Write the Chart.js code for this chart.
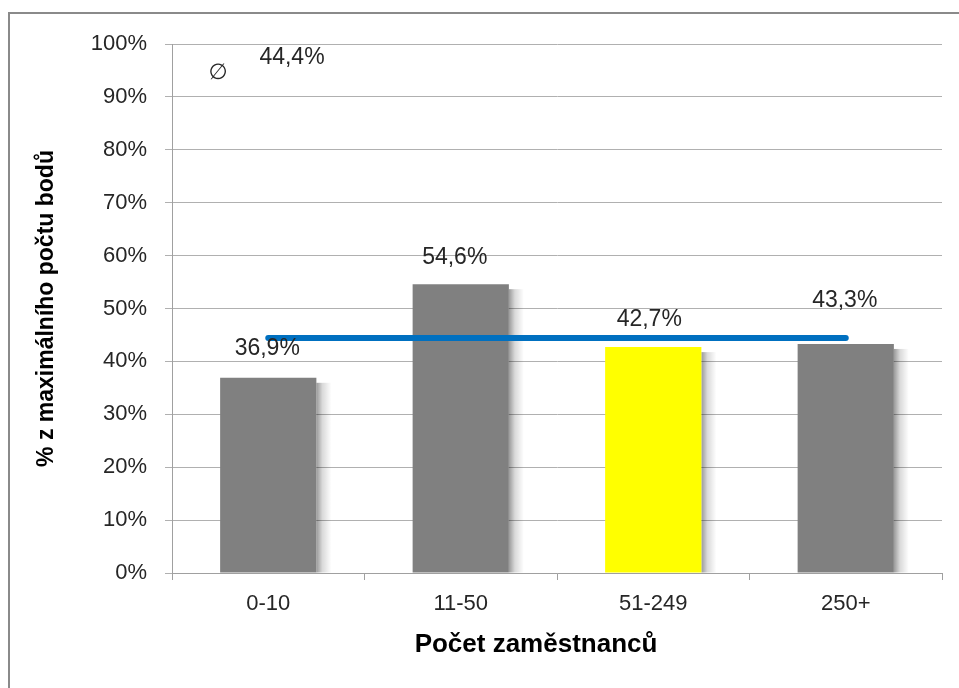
<!DOCTYPE html>
<html>
<head>
<meta charset="utf-8">
<script src="https://cdn.jsdelivr.net/npm/chart.js@4.4.1/dist/chart.umd.min.js"></script>
<style>
html,body{margin:0;padding:0;background:#fff;}
#wrap{width:959px;height:688px;position:relative;}
</style>
</head>
<body>
<div id="wrap"><canvas id="c" width="959" height="688"></canvas></div>
<script>
const categories = ['0-10', '11-50', '51-249', '250+'];
const values = [36.9, 54.6, 42.7, 43.3];
const average = 44.4;
const averageLine = [44.4, 44.4, 44.4, 44.4];
const yTicks = [0, 10, 20, 30, 40, 50, 60, 70, 80, 90, 100];
const barColors = ['#808080', '#808080', '#ffff00', '#808080'];
const xTitle = 'Počet zaměstnanců';
const yTitle = '% z maximálního počtu bodů';

const FONT = "'Liberation Sans', Arial, sans-serif";
const fmt = v => v.toFixed(1).replace('.', ',') + '%';

const framePlugin = {
  id: 'frame',
  beforeDraw(chart) {
    const ctx = chart.ctx;
    ctx.save();
    ctx.fillStyle = '#fff';
    ctx.fillRect(0, 0, chart.width, chart.height);
    ctx.strokeStyle = '#8a8a8a';
    ctx.lineWidth = 2;
    ctx.strokeRect(9, 13, 1200, 1200);
    ctx.restore();
  }
};

const shadowPlugin = {
  id: 'barShadow',
  beforeDatasetDraw(chart, args) {
    if (args.index !== 0) return;
    const ctx = chart.ctx;
    const meta = chart.getDatasetMeta(0);
    ctx.save();
    meta.data.forEach(bar => {
      const right = bar.x + bar.width / 2;
      const g = ctx.createLinearGradient(right, 0, right + 15, 0);
      g.addColorStop(0, 'rgba(0,0,0,0.4)');
      g.addColorStop(0.4, 'rgba(0,0,0,0.15)');
      g.addColorStop(1, 'rgba(0,0,0,0)');
      ctx.fillStyle = g;
      ctx.fillRect(right, bar.y + 5, 15, bar.base - bar.y - 5);
    });
    ctx.restore();
  }
};

const labelPlugin = {
  id: 'valueLabels',
  afterDatasetsDraw(chart, args, opts) {
    const ctx = chart.ctx;
    const meta = chart.getDatasetMeta(0);
    const ca = chart.chartArea;
    ctx.save();
    ctx.font = '23px ' + FONT;
    ctx.fillStyle = '#262626';
    ctx.textAlign = 'center';
    ctx.textBaseline = 'middle';
    meta.data.forEach((bar, i) => {
      const v = chart.data.datasets[0].data[i];
      ctx.fillText(fmt(v), bar.x + opts.dx[i], bar.y - opts.dy[i]);
    });
    // average annotation
    ctx.fillText(fmt(average), ca.left + 120, ca.top + 14);
    ctx.font = '22px DejaVu Sans, sans-serif';
    ctx.fillText('\u2205', ca.left + 46, ca.top + 29);
    // x axis title
    ctx.font = 'bold 26px ' + FONT;
    ctx.fillStyle = '#000';
    ctx.fillText(xTitle, ca.left + 364, 645);
    ctx.restore();
  }
};

new Chart(document.getElementById('c'), {
  data: {
    labels: categories,
    datasets: [
      {
        type: 'bar',
        data: values,
        backgroundColor: barColors,
        borderWidth: 0,
        barPercentage: 0.5,
        categoryPercentage: 1.0,
        order: 2
      },
      {
        type: 'line',
        data: averageLine,
        borderColor: '#0070c0',
        borderWidth: 6,
        borderCapStyle: 'round',
        pointRadius: 0,
        fill: false,
        order: 1
      }
    ]
  },
  options: {
    responsive: false,
    animation: false,
    devicePixelRatio: 1,
    layout: { padding: { top: 44, right: 17, left: 0, bottom: 0 } },
    plugins: {
      legend: { display: false },
      tooltip: { enabled: false },
      valueLabels: { dx: [-1, -6, -4, -1], dy: [29, 27, 27, 43] }
    },
    scales: {
      x: {
        afterFit(s) { s.height = 115; },
        grid: { offset: true, drawOnChartArea: false, drawTicks: true, tickLength: 7, color: '#a0a0a0' },
        border: { color: '#a0a0a0', width: 1 },
        ticks: { font: { family: FONT, size: 22 }, color: '#262626', padding: 11 },
        title: { display: false }
      },
      y: {
        min: 0,
        max: 100,
        afterFit(s) { s.width = 172; },
        afterBuildTicks(s) { s.ticks = yTicks.map(v => ({ value: v })); },
        grid: { color: '#b0b0b0', tickLength: 7 },
        border: { color: '#a0a0a0', width: 1 },
        ticks: {
          font: { family: FONT, size: 22 },
          color: '#262626',
          padding: 18,
          callback: v => v + '%'
        },
        title: {
          display: true,
          text: yTitle,
          font: { family: FONT, size: 23, weight: 'bold' },
          color: '#000',
          padding: { top: 33, bottom: 0 }
        }
      }
    }
  },
  plugins: [framePlugin, shadowPlugin, labelPlugin]
});
</script>
</body>
</html>
